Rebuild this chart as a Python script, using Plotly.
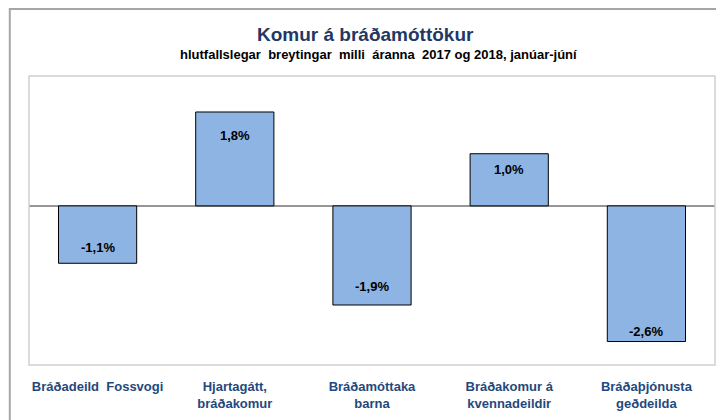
import plotly.graph_objects as go

categories = ["Bráðadeild  Fossvogi", "Hjartagátt,<br>bráðakomur", "Bráðamóttaka<br>barna",
              "Bráðakomur á<br>kvennadeildir", "Bráðaþjónusta<br>geðdeilda"]
values = [-1.1, 1.8, -1.9, 1.0, -2.6]
labels = ["-1,1%", "1,8%", "-1,9%", "1,0%", "-2,6%"]
label_shift = [16, -24, 19, -16, 10]

title = "Komur á bráðamóttökur"
subtitle = "hlutfallslegar  breytingar  milli  áranna  2017 og 2018, janúar-júní"

FONT = "Liberation Sans, Arial, sans-serif"

fig = go.Figure()
fig.add_trace(go.Bar(
    x=categories, y=values,
    marker=dict(color="#8DB4E2", line=dict(color="#000000", width=1)),
    width=0.57,
    hoverinfo="skip",
))

for c, v, t, s in zip(categories, values, labels, label_shift):
    fig.add_annotation(x=c, y=v, text="<b>%s</b>" % t, showarrow=False,
                       yshift=s, font=dict(family=FONT, size=13, color="#000000"))

fig.add_annotation(xref="paper", yref="paper", x=0.49, y=1.187, text="<b>%s</b>" % title,
                   showarrow=False, font=dict(family=FONT, size=19, color="#1F3864"))
fig.add_annotation(xref="paper", yref="paper", x=0.51, y=1.108, text="<b>%s</b>" % subtitle,
                   showarrow=False, font=dict(family=FONT, size=13, color="#000000"))

# outer chart border
fig.add_shape(type="rect", xref="paper", yref="paper", x0=-0.028, y0=-0.3, x1=1.1, y1=1.232,
              line=dict(color="#A6A6A6", width=2))
# plot area border
fig.add_shape(type="rect", xref="paper", yref="paper", x0=0, y0=0, x1=1, y1=1,
              line=dict(color="#D0D0D0", width=1.5))

fig.update_layout(
    width=724, height=420,
    margin=dict(l=21, r=17, t=68, b=63, autoexpand=False),
    paper_bgcolor="white", plot_bgcolor="white",
    showlegend=False,
    font=dict(family=FONT),
    xaxis=dict(showgrid=False, showline=False, ticks="", ticklabelstandoff=12, automargin=False,
               tickfont=dict(family=FONT, size=13, color="#1F497D")),
    yaxis=dict(range=[-3.05, 2.49], showgrid=False, showticklabels=False, zeroline=True,
               automargin=False,
               zerolinecolor="#969696", zerolinewidth=1.5, showline=False),
)
fig.update_xaxes(tickprefix="<b>", ticksuffix="</b>")

fig.write_html("out.html")
